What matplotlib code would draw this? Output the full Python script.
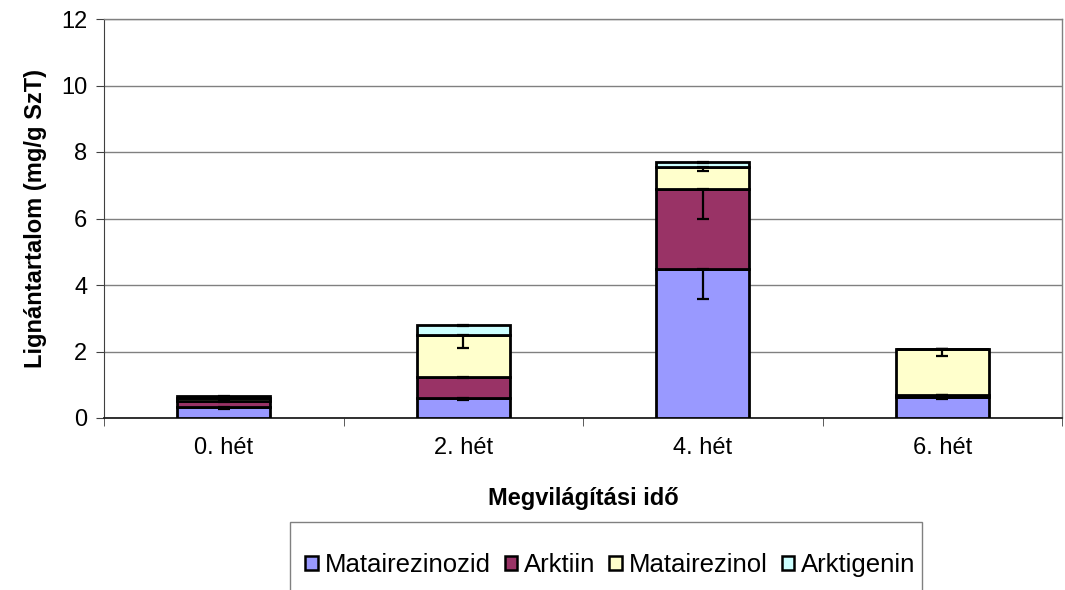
import matplotlib
matplotlib.use("Agg")
import matplotlib.pyplot as plt
import numpy as np
from matplotlib.patches import Patch, Rectangle

plt.rcParams['font.family'] = ['Liberation Sans', 'DejaVu Sans']

categories = ['0. hét', '2. hét', '4. hét', '6. hét']
series_names = ['Matairezinozid', 'Arktiin', 'Matairezinol', 'Arktigenin']
matairezinozid = [0.32, 0.60, 4.48, 0.64]
arktiin = [0.20, 0.64, 2.42, 0.06]
matairezinol = [0.08, 1.27, 0.64, 1.37]
arktigenin = [0.05, 0.30, 0.15, 0.02]
err_matairezinozid = [0.06, 0.05, 0.90, 0.08]
err_arktiin = [0.04, 0.05, 0.90, 0.0]
err_matairezinol = [0.03, 0.41, 0.10, 0.20]
err_arktigenin = [0.02, 0.03, 0.03, 0.0]
colors = ['#9999FF', '#993366', '#FFFFCC', '#CCFFFF']

series = [matairezinozid, arktiin, matairezinol, arktigenin]
errors = [err_matairezinozid, err_arktiin, err_matairezinol, err_arktigenin]

W, H = 1065, 590
fig = plt.figure(figsize=(W/100, H/100), dpi=100)
ax = fig.add_axes([104/W, 1-418/H, 958/W, 399/H])

x = np.arange(len(categories))
bottom = np.zeros(len(categories))
for vals, errs, c in zip(series, errors, colors):
    vals = np.array(vals)
    ax.bar(x, vals, width=0.39, bottom=bottom, color=c, edgecolor='black',
           linewidth=2, zorder=3)
    top = bottom + vals
    ax.errorbar(x, top, yerr=[np.array(errs), np.zeros(len(errs))], fmt='none',
                ecolor='black', elinewidth=1.6, capsize=4.5, capthick=1.6, zorder=4)
    bottom = top

ax.set_xlim(-0.5, len(categories) - 0.5)
ax.set_ylim(0, 12)
ax.set_yticks(np.arange(0, 13, 2))
ax.yaxis.grid(True, color='#808080', linewidth=1, zorder=0)
ax.set_axisbelow(True)

FS = 17
ax.set_xticks(x)
ax.set_xticklabels(categories, fontsize=FS)
ax.tick_params(axis='x', length=0, pad=14)
ax.set_xticks(np.arange(-0.5, len(categories) + 0.5, 1), minor=True)
ax.tick_params(axis='x', which='minor', length=6, direction='out', color='#404040')
ax.tick_params(axis='y', length=6, direction='out', labelsize=FS, color='#404040', pad=6)

for s in ['top', 'right']:
    ax.spines[s].set_color('#808080')
    ax.spines[s].set_linewidth(1)
ax.spines['left'].set_color('#404040')
ax.spines['bottom'].set_color('#202020')
ax.spines['bottom'].set_linewidth(1.3)

ax.set_ylabel('Lignántartalom (mg/g SzT)', fontsize=FS, fontweight='bold', labelpad=10)
ax.set_xlabel('Megvilágítási idő', fontsize=FS, fontweight='bold', labelpad=20)

# legend frame (extends below the figure edge as in the reference)
fig.patches.append(Rectangle((290/W, -0.05), (922-290)/W, 0.05 + (H-522)/H,
                             transform=fig.transFigure, facecolor='none',
                             edgecolor='#808080', linewidth=1))
handles = [Patch(facecolor=c, edgecolor='black', linewidth=1.8) for c in colors]
leg = fig.legend(handles, series_names, loc='center left',
                 bbox_to_anchor=(300/W, 1-565/H), ncol=4, fontsize=18.5,
                 frameon=False, handlelength=0.5, handleheight=0.5,
                 handletextpad=0.25, columnspacing=0.55, borderpad=0.2,
                 borderaxespad=0)

fig.savefig('out.png', dpi=100)
